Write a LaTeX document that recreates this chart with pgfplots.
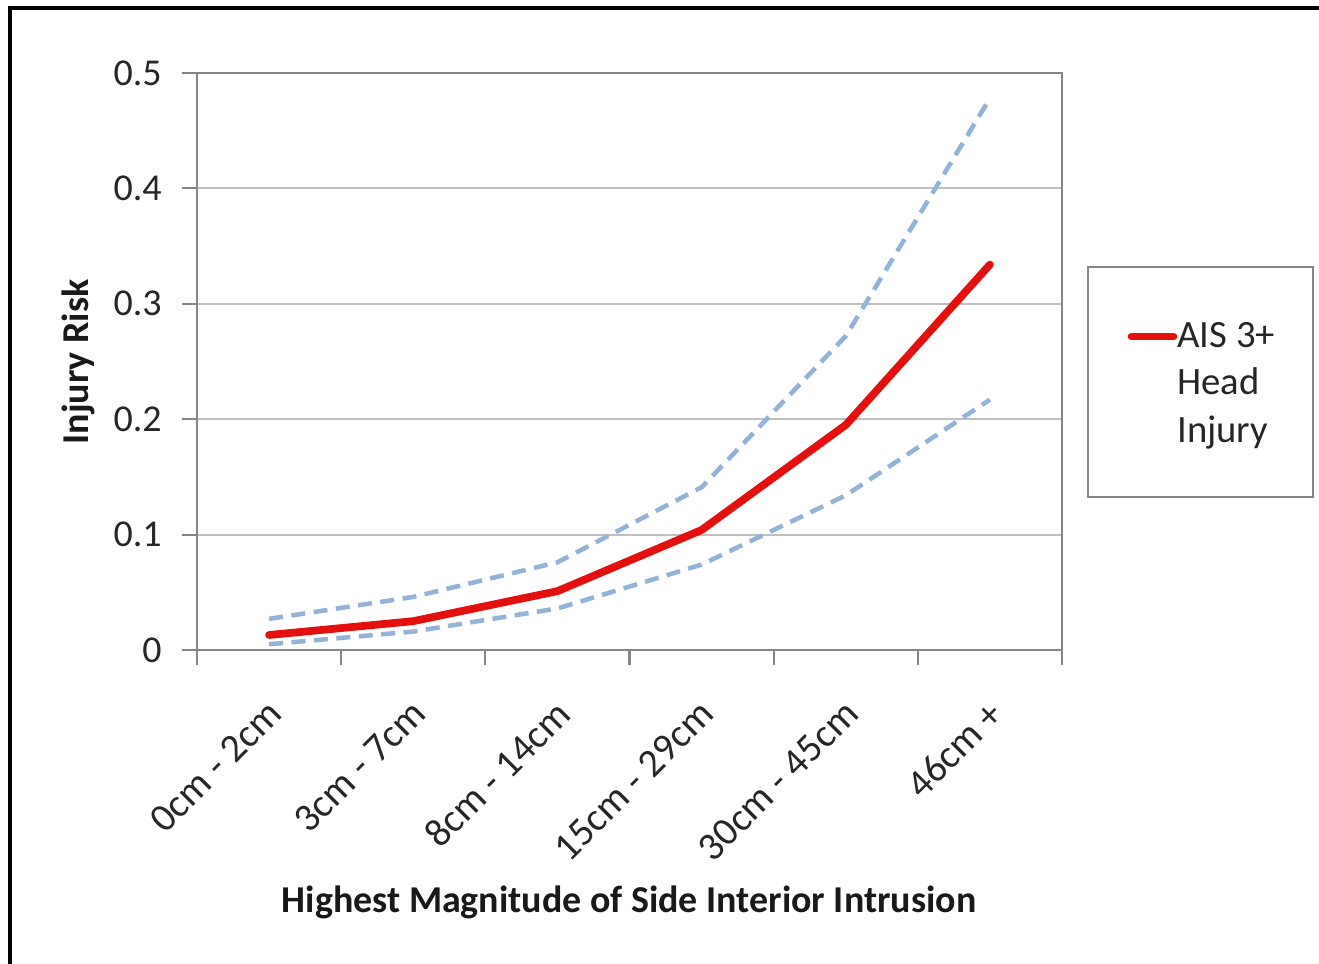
\documentclass[border=0pt]{standalone}
\usepackage{pgfplots}
\pgfplotsset{compat=1.18}
\usepackage{fontspec}
\setmainfont{Carlito}
\definecolor{rd}{RGB}{228,16,16}
\definecolor{lb}{RGB}{149,179,215}
\definecolor{gridc}{RGB}{192,192,192}
\definecolor{axc}{RGB}{134,134,134}
\begin{document}
\begin{tikzpicture}[x=1cm,y=1cm]
\useasboundingbox (0,0) rectangle (13.19,9.63);
\draw[black, line width=1pt] (0.1,-0.5) rectangle (13.6,9.55);
\draw[axc, line width=0.6pt] (10.88,4.66) rectangle (13.13,6.96);
\begin{axis}[
  at={(1.97cm,3.13cm)}, anchor=south west,
  width=8.65cm, height=5.77cm, scale only axis,
  xmin=-0.5, xmax=5.5, ymin=0, ymax=0.5,
  xtick={0,...,5},
  xticklabels={0cm - 2cm, 3cm - 7cm, 8cm - 14cm, 15cm - 29cm, 30cm - 45cm, 46cm +},
  minor xtick={-0.5,0.5,...,5.5},
  major x tick style={draw=none},
  ytick={0,0.1,0.2,0.3,0.4,0.5},
  yticklabels={0,0.1,0.2,0.3,0.4,0.5},
  tick pos=left, tick align=outside,
  major tick length=0.15cm, minor tick length=0.15cm,
  every tick/.style={draw=axc, line width=0.6pt},
  axis line style={draw=axc, line width=0.6pt},
  ymajorgrids, grid style={draw=gridc, line width=0.6pt},
  tick label style={font=\fontsize{10.8}{13}\selectfont, text=black!85},
  xticklabel shift=0.12cm,
  xticklabel style={rotate=45, anchor=north east, xshift=-0.05cm, font=\fontsize{11.3}{13}\selectfont},
  yticklabel style={xshift=-0.08cm},
  legend style={at={(1.0751,0.582)}, anchor=north west, draw=none, fill=none,
    inner sep=0pt,
    font=\fontsize{11}{13.4}\selectfont, text=black!85,
    cells={anchor=base west}, nodes={inner sep=0pt}},
  legend image code/.code={\draw[#1] (0cm,0.32em) -- (0.42cm,0.32em);},
]
\addplot[lb, line width=1.3pt, dash pattern=on 4pt off 2.4pt, forget plot]
  coordinates {(0,0.027) (1,0.046) (2,0.076) (3,0.141) (4,0.272) (5,0.478)};
\addplot[lb, line width=1.3pt, dash pattern=on 4pt off 2.4pt, forget plot]
  coordinates {(0,0.005) (1,0.016) (2,0.036) (3,0.074) (4,0.134) (5,0.217)};
\addplot[rd, line width=2.2pt, line join=round, line cap=round]
  coordinates {(0,0.013) (1,0.025) (2,0.051) (3,0.104) (4,0.195) (5,0.334)};
\addlegendentry{\begin{tabular}[t]{@{}l@{}}AIS 3+\\Head\\Injury\end{tabular}}
\end{axis}
\node[font=\bfseries\fontsize{10.8}{13}\selectfont, rotate=90, text=black!90] at (0.78,6.01) {Injury Risk};
\node[font=\bfseries\fontsize{10.8}{13}\selectfont, text=black!90] at (6.29,0.61) {Highest Magnitude of Side Interior Intrusion};
\end{tikzpicture}
\end{document}
